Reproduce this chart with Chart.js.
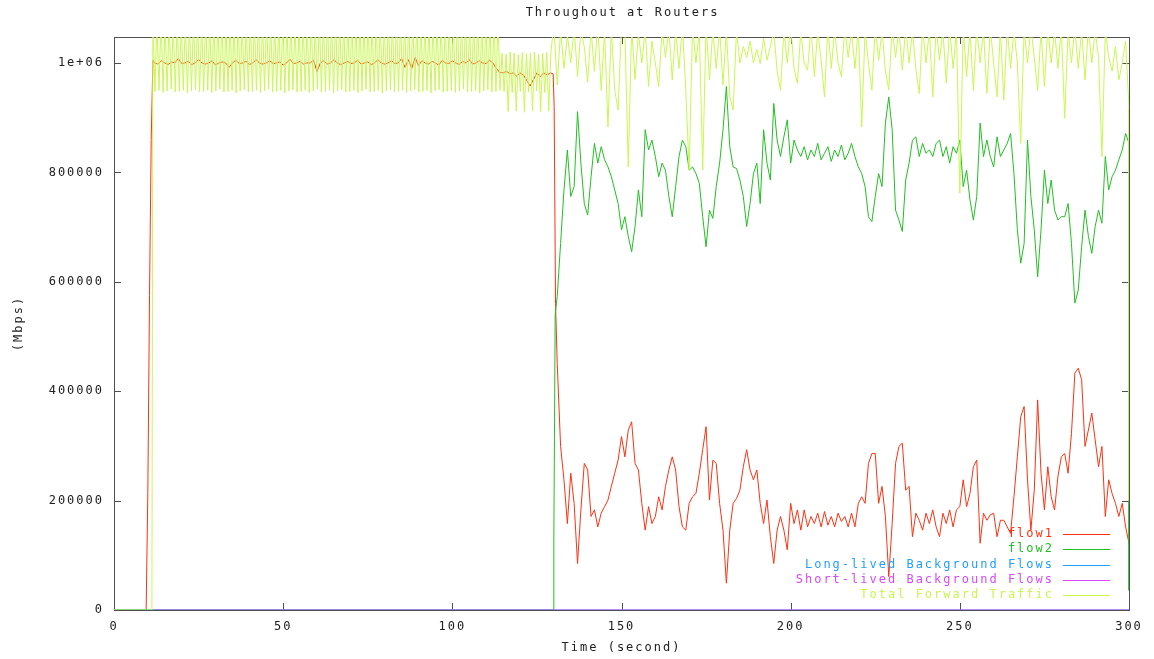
<!DOCTYPE html>
<html>
<head>
<meta charset="utf-8">
<title>Throughout at Routers</title>
<script src="https://cdn.jsdelivr.net/npm/chart.js@4.4.1/dist/chart.umd.min.js"></script>
<style>
  html, body { margin: 0; padding: 0; background: #fff; }
  canvas { display: block; }
</style>
</head>
<body>
<canvas id="chart" width="1154" height="659"></canvas>
<script>
// ---- data (seconds, Mbps as plotted) ----
var chartTitle = 'Throughout at Routers';
var seriesLabels = ['flow1', 'flow2', 'Long-lived Background Flows', 'Short-lived Background Flows', 'Total Forward Traffic'];
var xTicks = [0, 50, 100, 150, 200, 250, 300];
var yTicks = [0, 200000, 400000, 600000, 800000, 1000000];

// flow1: start-up ramp, plateau (1 s samples from t=12), drop at ~130 s, then 1 s samples from t=131
var flow1RampTimes = [0, 9.5, 10, 10.5, 11, 11.5];
var flow1RampValues = [0, 0, 215000, 575000, 860000, 1005000];
var flow1PlateauStart = 12;
var flow1PlateauValues = [
  1000000, 998000, 1004000, 1000000, 997000, 1002000, 1000000, 1008000, 999000, 1000000,
  1003000, 997000, 1000000, 1006000, 1000000, 998000, 1000000, 1004000, 996000, 1000000,
  1002000, 1000000, 992000, 1000000, 1005000, 999000, 1000000, 1003000, 997000, 1000000,
  1006000, 1000000, 998000, 1000000, 1004000, 999000, 1000000, 1002000, 996000, 1000000,
  1007000, 999000, 1000000, 1003000, 998000, 1000000, 1000000, 1005000, 984000, 1000000,
  1004000, 998000, 1000000, 1006000, 1000000, 997000, 1000000, 1003000, 999000, 1000000,
  1005000, 998000, 1000000, 1002000, 997000, 1000000, 1006000, 1000000, 998000, 1000000,
  1004000, 999000, 1000000, 1008000, 992000, 1006000, 990000, 1010000, 995000, 1004000,
  1000000, 998000, 1003000, 1000000, 996000, 1005000, 1000000, 999000, 1004000, 1000000,
  997000, 1003000, 1000000, 1006000, 998000, 1000000, 1004000, 1000000, 999000, 1005000, 1000000, 990000,
  983000, 982000, 985000, 980000, 982000, 976000, 982000, 978000, 968000, 958000,
  970000, 982000, 975000, 982000, 978000, 982000
];
var flow1DropTimes = [129.8, 130.1, 130.5];
var flow1DropValues = [980000, 920000, 560000];
var flow1Start = 131;
var flow1Values = [
  451000, 299000, 238000, 158000, 250000, 195000, 85000, 183000, 268000, 256000,
  171000, 183000, 152000, 177000, 189000, 201000, 226000, 250000, 274000, 317000,
  280000, 329000, 344000, 268000, 256000, 195000, 146000, 189000, 158000, 171000,
  207000, 183000, 226000, 256000, 280000, 256000, 189000, 152000, 146000, 195000,
  207000, 213000, 250000, 293000, 335000, 201000, 274000, 268000, 195000, 146000,
  49000, 146000, 195000, 204000, 219000, 262000, 293000, 256000, 238000, 256000,
  195000, 158000, 201000, 134000, 85000, 146000, 171000, 146000, 110000, 195000,
  158000, 183000, 146000, 183000, 152000, 171000, 158000, 177000, 152000, 180000,
  155000, 171000, 152000, 177000, 162000, 171000, 152000, 177000, 152000, 195000,
  207000, 195000, 268000, 286000, 286000, 195000, 226000, 171000, 61000, 158000,
  268000, 299000, 305000, 219000, 226000, 134000, 177000, 164000, 146000, 177000,
  158000, 183000, 152000, 134000, 177000, 158000, 183000, 152000, 183000, 189000,
  238000, 189000, 213000, 262000, 274000, 122000, 177000, 164000, 174000, 177000,
  134000, 164000, 164000, 152000, 140000, 207000, 280000, 353000, 372000, 238000,
  146000, 219000, 384000, 250000, 183000, 262000, 207000, 183000, 244000, 280000,
  286000, 250000, 323000, 433000, 442000, 421000, 299000, 329000, 360000, 311000,
  262000, 299000, 171000, 238000, 213000, 195000, 171000, 195000, 152000, 122000
];

// flow2: idle until ~130 s, then one sample per second from t=131
var flow2HeadTimes = [0, 129.8, 130, 130.4];
var flow2HeadValues = [0, 0, 128000, 540000];
var flow2Start = 131;
var flow2Values = [
  573000, 670000, 768000, 841000, 756000, 774000, 911000, 817000, 743000, 722000,
  792000, 853000, 817000, 847000, 823000, 810000, 792000, 768000, 743000, 695000,
  719000, 683000, 655000, 701000, 768000, 719000, 878000, 841000, 859000, 829000,
  792000, 817000, 804000, 756000, 719000, 774000, 829000, 859000, 847000, 804000,
  810000, 798000, 780000, 719000, 664000, 731000, 716000, 774000, 817000, 878000,
  957000, 847000, 810000, 807000, 786000, 756000, 701000, 743000, 798000, 817000,
  743000, 878000, 817000, 786000, 926000, 859000, 829000, 865000, 896000, 817000,
  859000, 841000, 829000, 847000, 823000, 841000, 829000, 853000, 823000, 835000,
  847000, 820000, 841000, 829000, 850000, 823000, 835000, 853000, 829000, 810000,
  798000, 774000, 719000, 710000, 756000, 798000, 774000, 890000, 938000, 878000,
  731000, 713000, 692000, 786000, 817000, 859000, 865000, 829000, 853000, 835000,
  841000, 829000, 853000, 859000, 829000, 847000, 817000, 847000, 835000, 859000,
  774000, 804000, 750000, 713000, 756000, 890000, 829000, 859000, 829000, 810000,
  865000, 829000, 841000, 853000, 871000, 798000, 695000, 634000, 670000, 859000,
  756000, 695000, 609000, 695000, 804000, 743000, 786000, 731000, 713000, 719000,
  719000, 743000, 670000, 561000, 585000, 664000, 731000, 683000, 652000, 701000,
  731000, 707000, 829000, 768000, 792000, 804000, 823000, 841000, 871000, 853000
];
var flow2TailTimes = [300];
var flow2TailValues = [36000];

// background flows stay at zero
var longLivedTimes = [0, 300];
var longLivedValues = [0, 0];
var shortLivedTimes = [11.3, 300];
var shortLivedValues = [0, 0];

// total forward traffic: zero, then a fast oscillation (0.6 s samples), then 1 s samples from t=130
var totalHeadTimes = [0, 11.2];
var totalHeadValues = [0, 0];
var totalOscStart = 11.5;
var totalOscStep = 0.6;
var totalOscValues = [
  1080000, 948000, 1075000, 950000, 1085000, 946000, 1078000, 949000, 1082000, 952000,
  1076000, 947000, 1084000, 948000, 1079000, 950000, 1081000, 945000, 1077000, 949000,
  1083000, 951000, 1078000, 947000, 1080000, 948000, 1086000, 950000, 1075000, 946000,
  1082000, 949000, 1079000, 952000, 1084000, 947000, 1077000, 948000, 1081000, 950000,
  1078000, 945000, 1085000, 949000, 1080000, 951000, 1076000, 947000, 1083000, 948000,
  1079000, 950000, 1082000, 946000, 1077000, 949000, 1084000, 952000, 1080000, 947000,
  1075000, 948000, 1081000, 950000, 1086000, 945000, 1078000, 949000, 1083000, 951000,
  1079000, 947000, 1076000, 948000, 1082000, 950000, 1080000, 946000, 1085000, 949000,
  1077000, 952000, 1084000, 947000, 1079000, 948000, 1081000, 950000, 1078000, 945000,
  1083000, 949000, 1080000, 951000, 1076000, 947000, 1082000, 948000, 1085000, 950000,
  1079000, 946000, 1081000, 949000, 1077000, 952000, 1084000, 947000, 1080000, 948000,
  1078000, 950000, 1083000, 945000, 1076000, 949000, 1082000, 951000, 1079000, 947000,
  1085000, 948000, 1080000, 950000, 1077000, 946000, 1081000, 949000, 1084000, 952000,
  1078000, 947000, 1082000, 948000, 1079000, 950000, 1076000, 945000, 1083000, 949000,
  1080000, 951000, 1085000, 947000, 1077000, 948000, 1081000, 950000, 1078000, 946000,
  1084000, 949000, 1079000, 952000, 1082000, 947000, 1076000, 948000, 1080000, 950000,
  1083000, 945000, 1078000, 949000, 1081000, 951000, 1077000, 947000, 1085000, 948000,
  1080000, 950000,
  1018000, 948000, 1016000, 911000, 1020000, 946000, 1018000, 912000, 1015000, 948000,
  1019000, 910000, 1017000, 947000, 1018000, 913000, 1020000, 949000, 1016000, 911000,
  1018000, 946000, 1019000, 912000, 1017000
];
var totalStart = 130;
var totalValues = [
  1070000, 960000, 1060000, 990000, 1050000, 1000000, 1065000, 975000, 1060000, 1030000,
  965000, 1060000, 985000, 1070000, 950000, 1060000, 883000, 1065000, 950000, 914000,
  1070000, 1060000, 810000, 1065000, 970000, 1055000, 1000000, 1060000, 957000, 1040000,
  1000000, 957000, 1060000, 1010000, 1065000, 969000, 1060000, 990000, 1070000, 950000,
  804000, 1065000, 1000000, 1060000, 804000, 1070000, 969000, 1060000, 990000, 1065000,
  960000, 1060000, 938000, 914000, 1060000, 1000000, 1030000, 1010000, 1040000, 1000000,
  1025000, 999000, 1045000, 1005000, 1030000, 1060000, 985000, 950000, 1060000, 1000000,
  1070000, 990000, 963000, 1060000, 1000000, 987000, 1065000, 975000, 1060000, 1005000,
  938000, 1065000, 990000, 1060000, 1000000, 975000, 1065000, 1010000, 1060000, 990000,
  1065000, 883000, 1060000, 1000000, 950000, 1065000, 1005000, 1060000, 985000, 951000,
  1065000, 1010000, 1060000, 987000, 1065000, 1000000, 1060000, 990000, 944000, 1065000,
  1000000, 1060000, 938000, 1065000, 1005000, 1060000, 963000, 1065000, 990000, 1060000,
  762000, 1065000, 975000, 1060000, 950000, 1065000, 1000000, 1060000, 944000, 1065000,
  1000000, 938000, 1060000, 932000, 1065000, 990000, 1060000, 1000000, 853000, 1060000,
  1000000, 1065000, 1010000, 950000, 1060000, 957000, 1065000, 1000000, 1060000, 990000,
  1065000, 899000, 1060000, 1000000, 1065000, 990000, 1060000, 969000, 1065000, 1000000,
  1060000, 1010000, 829000, 1060000, 1011000, 985000, 1030000, 969000, 1000000, 1040000,
  917000
];
var totalTailTimes = [300];
var totalTailValues = [200000];

var seriesColors = ['#ff3010', '#20c020', '#20a0ff', '#d848ff', '#c8f850'];

var FONT = 'DejaVu Sans Mono';
var TEXT_COLOR = '#202020';
var FRAME_COLOR = '#505050';

var toPoints = function(times, values){
    var pts = [];
    for (var i = 0; i < values.length; i++) {
        pts.push({x: times[i], y: values[i]});
    }
    return pts;
};

var gridPoints = function(start, step, values){
    var pts = [];
    for (var i = 0; i < values.length; i++) {
        pts.push({x: start + i * step, y: values[i]});
    }
    return pts;
};

var flow1Data = toPoints(flow1RampTimes, flow1RampValues)
    .concat(gridPoints(flow1PlateauStart, 1, flow1PlateauValues))
    .concat(toPoints(flow1DropTimes, flow1DropValues))
    .concat(gridPoints(flow1Start, 1, flow1Values));
var flow2Data = toPoints(flow2HeadTimes, flow2HeadValues)
    .concat(gridPoints(flow2Start, 1, flow2Values))
    .concat(toPoints(flow2TailTimes, flow2TailValues));
var longData = toPoints(longLivedTimes, longLivedValues);
var shortData = toPoints(shortLivedTimes, shortLivedValues);
var totalData = toPoints(totalHeadTimes, totalHeadValues)
    .concat(gridPoints(totalOscStart, totalOscStep, totalOscValues))
    .concat(gridPoints(totalStart, 1, totalValues))
    .concat(toPoints(totalTailTimes, totalTailValues));

var allData = [flow1Data, flow2Data, longData, shortData, totalData];

var datasets = [];
for (var i = 0; i < seriesLabels.length; i++) {
    datasets.push({
        label: seriesLabels[i],
        data: allData[i],
        borderColor: seriesColors[i],
        backgroundColor: seriesColors[i],
        borderWidth: 1,
        pointRadius: 0,
        tension: 0,
        fill: false,
        // gnuplot draws later curves on top
        order: seriesLabels.length - 1 - i
    });
}

// letter spacing makes the narrow mono font look like gnuplot's wide one
var spacing = {
    id: 'spacing',
    beforeDraw: function(chart){
        chart.ctx.letterSpacing = '2px';
    }
};

// border box with inward ticks on all four sides
var frame = {
    id: 'frame',
    beforeDatasetsDraw: function(chart){
        var ctx = chart.ctx, a = chart.chartArea;
        var xs = chart.scales.x, ys = chart.scales.y;
        ctx.save();
        ctx.strokeStyle = FRAME_COLOR;
        ctx.lineWidth = 1;
        ctx.beginPath();
        xs.ticks.forEach(function(t){
            var px = Math.round(xs.getPixelForValue(t.value)) + 0.5;
            ctx.moveTo(px, a.bottom); ctx.lineTo(px, a.bottom - 7);
            ctx.moveTo(px, a.top); ctx.lineTo(px, a.top + 7);
        });
        ys.ticks.forEach(function(t){
            var py = Math.round(ys.getPixelForValue(t.value)) + 0.5;
            ctx.moveTo(a.left, py); ctx.lineTo(a.left + 7, py);
            ctx.moveTo(a.right, py); ctx.lineTo(a.right - 7, py);
        });
        ctx.stroke();
        ctx.strokeRect(a.left + 0.5, a.top + 0.5, a.right - a.left, a.bottom - a.top);
        ctx.restore();
    }
};

// title centred over the plot, and gnuplot-like key in the lower right corner
var decorations = {
    id: 'decorations',
    afterDraw: function(chart){
        var ctx = chart.ctx, a = chart.chartArea;
        ctx.save();
        ctx.font = '12px "' + FONT + '"';
        ctx.textBaseline = 'middle';
        ctx.fillStyle = TEXT_COLOR;
        ctx.textAlign = 'center';
        ctx.fillText(chartTitle, (a.left + a.right) / 2 + 1, 13);

        ctx.textAlign = 'right';
        chart.data.datasets.forEach(function(ds, i){
            var yy = a.bottom - 76 + i * 15.25;
            ctx.fillStyle = ds.borderColor;
            ctx.fillText(ds.label, a.right - 75, yy);
            ctx.strokeStyle = ds.borderColor;
            ctx.lineWidth = 1;
            ctx.beginPath();
            ctx.moveTo(a.right - 66, Math.round(yy) + 0.5);
            ctx.lineTo(a.right - 19, Math.round(yy) + 0.5);
            ctx.stroke();
        });
        ctx.restore();
    }
};

var ctx = document.getElementById('chart').getContext('2d');
var chartObj = new Chart(ctx, {
    type: 'line',
    data: { datasets: datasets },
    options: {
        responsive: false,
        animation: false,
        devicePixelRatio: 1,
        layout: { padding: { top: 37, right: 25, bottom: 0, left: 0 } },
        plugins: {
            legend: { display: false },
            title: { display: false },
            tooltip: { enabled: false }
        },
        scales: {
            x: {
                type: 'linear',
                min: 0,
                max: 300,
                grid: { display: false, drawTicks: false },
                border: { display: false },
                afterFit: function(scale){ scale.height = 49; },
                afterBuildTicks: function(scale){
                    scale.ticks = xTicks.map(function(v){ return {value: v}; });
                },
                ticks: {
                    padding: 10,
                    maxRotation: 0,
                    autoSkip: false,
                    color: TEXT_COLOR,
                    font: { family: FONT, size: 12 }
                },
                title: {
                    display: true,
                    text: 'Time (second)',
                    color: TEXT_COLOR,
                    font: { family: FONT, size: 12, lineHeight: '14px' },
                    padding: { top: 0, bottom: 4 }
                }
            },
            y: {
                type: 'linear',
                min: 0,
                max: 1047500,
                grid: { display: false, drawTicks: false },
                border: { display: false },
                afterFit: function(scale){ scale.width = 114; },
                afterBuildTicks: function(scale){
                    scale.ticks = yTicks.map(function(v){ return {value: v}; });
                },
                ticks: {
                    padding: 10,
                    autoSkip: false,
                    color: TEXT_COLOR,
                    font: { family: FONT, size: 12 },
                    callback: function(v){ return v === 1000000 ? '1e+06' : String(v); }
                },
                title: {
                    display: true,
                    text: '(Mbps)',
                    color: TEXT_COLOR,
                    font: { family: FONT, size: 12, lineHeight: '14px' },
                    padding: { top: 12, bottom: 0 }
                }
            }
        }
    },
    plugins: [spacing, frame, decorations]
});
</script>
</body>
</html>
